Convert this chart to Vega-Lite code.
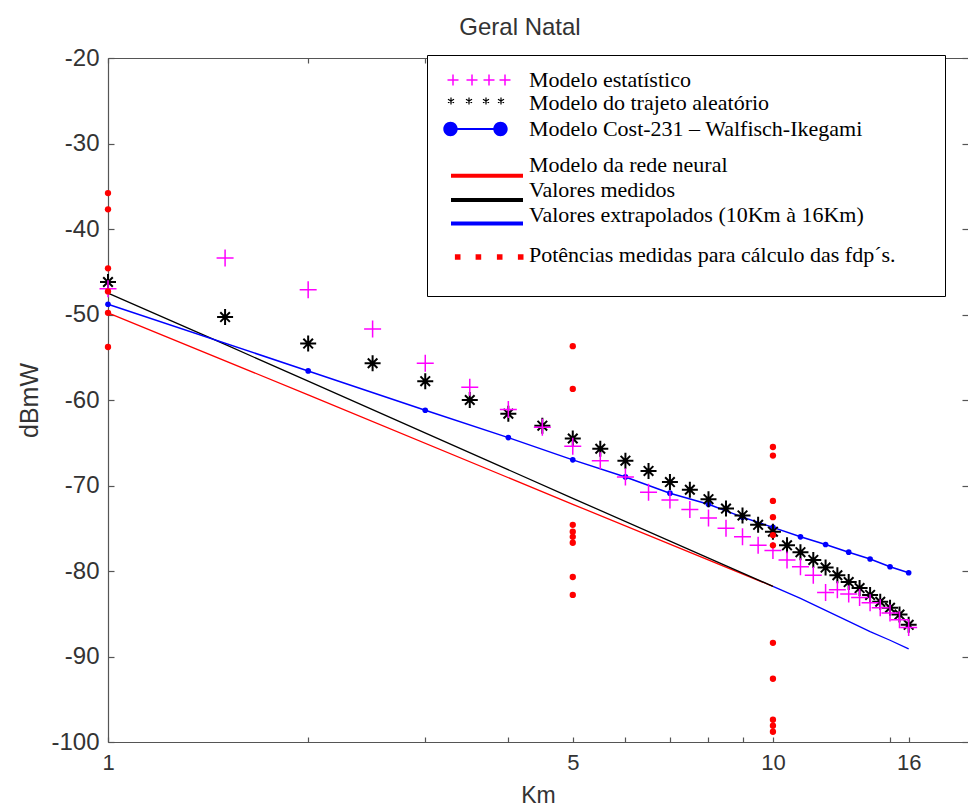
{
  "$schema": "https://vega.github.io/schema/vega-lite/v6.json",
  "width": 860,
  "height": 684,
  "autosize": {"type": "none"},
  "padding": {"left": 108, "top": 58, "right": 0, "bottom": 70},
  "background": "white",
  "title": {"text": "Geral Natal", "font": "Liberation Sans", "fontSize": 24, "fontWeight": "normal", "color": "#333333", "anchor": "middle", "frame": "group", "baseline": "bottom", "offset": 18, "dx": -18, "dy": 36},
  "config": {
    "view": {"stroke": null},
    "axis": {"grid": false, "domainColor": "#555555", "domainWidth": 1.2, "tickColor": "#555555", "tickWidth": 1.2, "labelColor": "#333333", "titleColor": "#333333", "labelFont": "Liberation Sans", "titleFont": "Liberation Sans", "labelFontSize": 22, "titleFontSize": 24, "titleFontWeight": "normal", "labelOverlap": false, "labelFlush": false}
  },
  "data": {"values": [
    {"series": "Modelo da rede neural", "km": 1, "dBmW": -49.8},
    {"series": "Modelo da rede neural", "km": 2, "dBmW": -59.4},
    {"series": "Modelo da rede neural", "km": 5, "dBmW": -72.2},
    {"series": "Modelo da rede neural", "km": 10, "dBmW": -81.8},
    {"series": "Valores medidos", "km": 1, "dBmW": -47.5},
    {"series": "Valores medidos", "km": 1.5, "dBmW": -53.5},
    {"series": "Valores medidos", "km": 2, "dBmW": -57.8},
    {"series": "Valores medidos", "km": 5, "dBmW": -71.5},
    {"series": "Valores medidos", "km": 10, "dBmW": -81.8},
    {"series": "Valores extrapolados (10Km à 16Km)", "km": 10, "dBmW": -81.8},
    {"series": "Valores extrapolados (10Km à 16Km)", "km": 11, "dBmW": -83.2},
    {"series": "Valores extrapolados (10Km à 16Km)", "km": 12, "dBmW": -84.6},
    {"series": "Valores extrapolados (10Km à 16Km)", "km": 13, "dBmW": -85.9},
    {"series": "Valores extrapolados (10Km à 16Km)", "km": 14, "dBmW": -87.1},
    {"series": "Valores extrapolados (10Km à 16Km)", "km": 15, "dBmW": -88.1},
    {"series": "Valores extrapolados (10Km à 16Km)", "km": 16, "dBmW": -89.1},
    {"series": "Modelo Cost-231 – Walfisch-Ikegami", "km": 1, "dBmW": -48.8},
    {"series": "Modelo Cost-231 – Walfisch-Ikegami", "km": 2, "dBmW": -56.6},
    {"series": "Modelo Cost-231 – Walfisch-Ikegami", "km": 3, "dBmW": -61.2},
    {"series": "Modelo Cost-231 – Walfisch-Ikegami", "km": 4, "dBmW": -64.4},
    {"series": "Modelo Cost-231 – Walfisch-Ikegami", "km": 5, "dBmW": -67.0},
    {"series": "Modelo Cost-231 – Walfisch-Ikegami", "km": 6, "dBmW": -69.0},
    {"series": "Modelo Cost-231 – Walfisch-Ikegami", "km": 7, "dBmW": -70.9},
    {"series": "Modelo Cost-231 – Walfisch-Ikegami", "km": 8, "dBmW": -72.2},
    {"series": "Modelo Cost-231 – Walfisch-Ikegami", "km": 9, "dBmW": -73.7},
    {"series": "Modelo Cost-231 – Walfisch-Ikegami", "km": 10, "dBmW": -74.9},
    {"series": "Modelo Cost-231 – Walfisch-Ikegami", "km": 11, "dBmW": -76.0},
    {"series": "Modelo Cost-231 – Walfisch-Ikegami", "km": 12, "dBmW": -76.9},
    {"series": "Modelo Cost-231 – Walfisch-Ikegami", "km": 13, "dBmW": -77.8},
    {"series": "Modelo Cost-231 – Walfisch-Ikegami", "km": 14, "dBmW": -78.6},
    {"series": "Modelo Cost-231 – Walfisch-Ikegami", "km": 15, "dBmW": -79.5},
    {"series": "Modelo Cost-231 – Walfisch-Ikegami", "km": 16, "dBmW": -80.2},
    {"series": "Modelo do trajeto aleatório", "km": 1, "dBmW": -46.2},
    {"series": "Modelo do trajeto aleatório", "km": 1.5, "dBmW": -50.3},
    {"series": "Modelo do trajeto aleatório", "km": 2, "dBmW": -53.4},
    {"series": "Modelo do trajeto aleatório", "km": 2.5, "dBmW": -55.7},
    {"series": "Modelo do trajeto aleatório", "km": 3, "dBmW": -57.8},
    {"series": "Modelo do trajeto aleatório", "km": 3.5, "dBmW": -60.0},
    {"series": "Modelo do trajeto aleatório", "km": 4, "dBmW": -61.6},
    {"series": "Modelo do trajeto aleatório", "km": 4.5, "dBmW": -63.0},
    {"series": "Modelo do trajeto aleatório", "km": 5, "dBmW": -64.5},
    {"series": "Modelo do trajeto aleatório", "km": 5.5, "dBmW": -65.7},
    {"series": "Modelo do trajeto aleatório", "km": 6, "dBmW": -67.1},
    {"series": "Modelo do trajeto aleatório", "km": 6.5, "dBmW": -68.3},
    {"series": "Modelo do trajeto aleatório", "km": 7, "dBmW": -69.6},
    {"series": "Modelo do trajeto aleatório", "km": 7.5, "dBmW": -70.5},
    {"series": "Modelo do trajeto aleatório", "km": 8, "dBmW": -71.6},
    {"series": "Modelo do trajeto aleatório", "km": 8.5, "dBmW": -72.7},
    {"series": "Modelo do trajeto aleatório", "km": 9, "dBmW": -73.5},
    {"series": "Modelo do trajeto aleatório", "km": 9.5, "dBmW": -74.6},
    {"series": "Modelo do trajeto aleatório", "km": 10, "dBmW": -75.4},
    {"series": "Modelo do trajeto aleatório", "km": 10.5, "dBmW": -77.0},
    {"series": "Modelo do trajeto aleatório", "km": 11, "dBmW": -77.8},
    {"series": "Modelo do trajeto aleatório", "km": 11.5, "dBmW": -78.7},
    {"series": "Modelo do trajeto aleatório", "km": 12, "dBmW": -79.6},
    {"series": "Modelo do trajeto aleatório", "km": 12.5, "dBmW": -80.5},
    {"series": "Modelo do trajeto aleatório", "km": 13, "dBmW": -81.3},
    {"series": "Modelo do trajeto aleatório", "km": 13.5, "dBmW": -82.0},
    {"series": "Modelo do trajeto aleatório", "km": 14, "dBmW": -82.8},
    {"series": "Modelo do trajeto aleatório", "km": 14.5, "dBmW": -83.6},
    {"series": "Modelo do trajeto aleatório", "km": 15, "dBmW": -84.3},
    {"series": "Modelo do trajeto aleatório", "km": 15.5, "dBmW": -85.1},
    {"series": "Modelo do trajeto aleatório", "km": 16, "dBmW": -86.3},
    {"series": "Modelo estatístico", "km": 1, "dBmW": -47.0},
    {"series": "Modelo estatístico", "km": 1.5, "dBmW": -43.4},
    {"series": "Modelo estatístico", "km": 2, "dBmW": -47.1},
    {"series": "Modelo estatístico", "km": 2.5, "dBmW": -51.7},
    {"series": "Modelo estatístico", "km": 3, "dBmW": -55.7},
    {"series": "Modelo estatístico", "km": 3.5, "dBmW": -58.5},
    {"series": "Modelo estatístico", "km": 4, "dBmW": -61.1},
    {"series": "Modelo estatístico", "km": 4.5, "dBmW": -63.2},
    {"series": "Modelo estatístico", "km": 5, "dBmW": -65.4},
    {"series": "Modelo estatístico", "km": 5.5, "dBmW": -67.1},
    {"series": "Modelo estatístico", "km": 6, "dBmW": -69.0},
    {"series": "Modelo estatístico", "km": 6.5, "dBmW": -70.8},
    {"series": "Modelo estatístico", "km": 7, "dBmW": -71.7},
    {"series": "Modelo estatístico", "km": 7.5, "dBmW": -72.8},
    {"series": "Modelo estatístico", "km": 8, "dBmW": -73.8},
    {"series": "Modelo estatístico", "km": 8.5, "dBmW": -75.0},
    {"series": "Modelo estatístico", "km": 9, "dBmW": -76.0},
    {"series": "Modelo estatístico", "km": 9.5, "dBmW": -77.0},
    {"series": "Modelo estatístico", "km": 10, "dBmW": -77.6},
    {"series": "Modelo estatístico", "km": 10.5, "dBmW": -78.7},
    {"series": "Modelo estatístico", "km": 11, "dBmW": -79.5},
    {"series": "Modelo estatístico", "km": 11.5, "dBmW": -80.5},
    {"series": "Modelo estatístico", "km": 12, "dBmW": -82.5},
    {"series": "Modelo estatístico", "km": 12.5, "dBmW": -82.2},
    {"series": "Modelo estatístico", "km": 13, "dBmW": -82.7},
    {"series": "Modelo estatístico", "km": 13.5, "dBmW": -83.1},
    {"series": "Modelo estatístico", "km": 14, "dBmW": -83.7},
    {"series": "Modelo estatístico", "km": 14.5, "dBmW": -84.3},
    {"series": "Modelo estatístico", "km": 15, "dBmW": -84.9},
    {"series": "Modelo estatístico", "km": 15.5, "dBmW": -85.7},
    {"series": "Modelo estatístico", "km": 16, "dBmW": -86.6},
    {"series": "Potências medidas para cálculo das fdp´s.", "km": 1, "dBmW": -35.8},
    {"series": "Potências medidas para cálculo das fdp´s.", "km": 1, "dBmW": -37.7},
    {"series": "Potências medidas para cálculo das fdp´s.", "km": 1, "dBmW": -44.6},
    {"series": "Potências medidas para cálculo das fdp´s.", "km": 1, "dBmW": -47.3},
    {"series": "Potências medidas para cálculo das fdp´s.", "km": 1, "dBmW": -49.8},
    {"series": "Potências medidas para cálculo das fdp´s.", "km": 1, "dBmW": -53.8},
    {"series": "Potências medidas para cálculo das fdp´s.", "km": 5, "dBmW": -53.7},
    {"series": "Potências medidas para cálculo das fdp´s.", "km": 5, "dBmW": -58.7},
    {"series": "Potências medidas para cálculo das fdp´s.", "km": 5, "dBmW": -74.6},
    {"series": "Potências medidas para cálculo das fdp´s.", "km": 5, "dBmW": -75.4},
    {"series": "Potências medidas para cálculo das fdp´s.", "km": 5, "dBmW": -76.0},
    {"series": "Potências medidas para cálculo das fdp´s.", "km": 5, "dBmW": -76.7},
    {"series": "Potências medidas para cálculo das fdp´s.", "km": 5, "dBmW": -80.7},
    {"series": "Potências medidas para cálculo das fdp´s.", "km": 5, "dBmW": -82.8},
    {"series": "Potências medidas para cálculo das fdp´s.", "km": 10, "dBmW": -65.5},
    {"series": "Potências medidas para cálculo das fdp´s.", "km": 10, "dBmW": -66.5},
    {"series": "Potências medidas para cálculo das fdp´s.", "km": 10, "dBmW": -71.8},
    {"series": "Potências medidas para cálculo das fdp´s.", "km": 10, "dBmW": -73.7},
    {"series": "Potências medidas para cálculo das fdp´s.", "km": 10, "dBmW": -75.8},
    {"series": "Potências medidas para cálculo das fdp´s.", "km": 10, "dBmW": -77.0},
    {"series": "Potências medidas para cálculo das fdp´s.", "km": 10, "dBmW": -88.4},
    {"series": "Potências medidas para cálculo das fdp´s.", "km": 10, "dBmW": -92.6},
    {"series": "Potências medidas para cálculo das fdp´s.", "km": 10, "dBmW": -97.4},
    {"series": "Potências medidas para cálculo das fdp´s.", "km": 10, "dBmW": -98.1},
    {"series": "Potências medidas para cálculo das fdp´s.", "km": 10, "dBmW": -98.8}
  ]},
  "resolve": {"axis": {"x": "independent", "y": "independent"}},
  "layer": [
    {
      "mark": {"type": "point", "filled": true, "opacity": 0, "size": 1},
      "encoding": {
        "x": {"field": "km", "type": "quantitative", "scale": {"type": "log", "domain": [1, 19.65], "nice": false}, "axis": null},
        "y": {"field": "dBmW", "type": "quantitative", "scale": {"domain": [-100, -20], "nice": false, "zero": false}, "axis": null},
        "color": {
          "field": "series", "type": "nominal",
          "scale": {
            "domain": ["Modelo estatístico", "Modelo do trajeto aleatório", "Modelo Cost-231 – Walfisch-Ikegami", "Modelo da rede neural", "Valores medidos", "Valores extrapolados (10Km à 16Km)", "Potências medidas para cálculo das fdp´s."],
            "range": ["#ff00ff", "#000000", "#0000ff", "#ff0000", "#000000", "#0000ff", "#ff0000"]
          },
          "legend": {
            "orient": "none", "legendX": 319, "legendY": -3, "title": null,
            "padding": 14, "fillColor": "white", "strokeColor": "#000000",
            "rowPadding": 0, "symbolSize": 400, "symbolStrokeWidth": 0, "symbolOpacity": 1, "symbolOffset": 28, "labelOffset": 38,
            "labelFont": "Liberation Serif", "labelFontSize": 22, "labelColor": "#000000", "labelLimit": 600
          }
        },
        "shape": {
          "field": "series", "type": "nominal",
          "scale": {
            "domain": ["Modelo estatístico", "Modelo do trajeto aleatório", "Modelo Cost-231 – Walfisch-Ikegami", "Modelo da rede neural", "Valores medidos", "Valores extrapolados (10Km à 16Km)", "Potências medidas para cálculo das fdp´s."],
            "range": [
              "M-4.2,-1.2M-4.2,1.0M45.1,0M-3.25,-0.075L-2.15,-0.075L-2.15,0.075L-3.25,0.075ZM-2.775,-0.55L-2.625,-0.55L-2.625,0.55L-2.775,0.55ZM-1.35,-0.075L-0.25,-0.075L-0.25,0.075L-1.35,0.075ZM-0.875,-0.55L-0.725,-0.55L-0.725,0.55L-0.875,0.55ZM0.35,-0.075L1.45,-0.075L1.45,0.075L0.35,0.075ZM0.825,-0.55L0.975,-0.55L0.975,0.55L0.825,0.55ZM1.95,-0.075L3.05,-0.075L3.05,0.075L1.95,0.075ZM2.425,-0.55L2.575,-0.55L2.575,0.55L2.425,0.55Z",
              "M-4.2,-1.2M-4.2,1.35M-2.96,-0.55L-2.84,-0.55L-2.84,0.15L-2.96,0.15ZM-2.627,0.027L-3.233,-0.323L-3.173,-0.427L-2.567,-0.077ZM-2.627,-0.427L-2.567,-0.323L-3.173,0.027L-3.233,-0.077ZM-1.16,-0.55L-1.04,-0.55L-1.04,0.15L-1.16,0.15ZM-0.827,0.027L-1.433,-0.323L-1.373,-0.427L-0.767,-0.077ZM-0.827,-0.427L-0.767,-0.323L-1.373,0.027L-1.433,-0.077ZM0.54,-0.55L0.66,-0.55L0.66,0.15L0.54,0.15ZM0.873,0.027L0.267,-0.323L0.327,-0.427L0.933,-0.077ZM0.873,-0.427L0.933,-0.323L0.327,0.027L0.267,-0.077ZM2.04,-0.55L2.16,-0.55L2.16,0.15L2.04,0.15ZM2.373,0.027L1.767,-0.323L1.827,-0.427L2.433,-0.077ZM2.373,-0.427L2.433,-0.323L1.827,0.027L1.767,-0.077Z",
              "M-4.2,-1.2M-4.2,2.35M-3.67,0A0.72,0.72 0 1 1 -2.23,0A0.72,0.72 0 1 1 -3.67,0ZM1.33,0A0.72,0.72 0 1 1 2.77,0A0.72,0.72 0 1 1 1.33,0ZM-2.95,-0.1L2.05,-0.1L2.05,0.1L-2.95,0.1Z",
              "M-4.2,-1.2M-4.2,1.3M-2.9,0.88L4.3,0.88L4.3,1.28L-2.9,1.28Z",
              "M-4.2,-1.2M-4.2,1.3M-2.9,0.8L4.3,0.8L4.3,1.2L-2.9,1.2Z",
              "M-4.2,-1.2M-4.2,2.75M-2.9,0.65L4.3,0.65L4.3,1.05L-2.9,1.05Z",
              "M-4.2,-1.2M-4.2,2.65M-2.51,-0.08L-1.95,-0.08L-1.95,0.48L-2.51,0.48ZM-0.44,-0.08L0.12,-0.08L0.12,0.48L-0.44,0.48ZM1.69,-0.08L2.25,-0.08L2.25,0.48L1.69,0.48ZM3.79,-0.08L4.35,-0.08L4.35,0.48L3.79,0.48Z"
            ]
          }
        }
      }
    },
    {
      "transform": [{"filter": {"field": "series", "equal": "Modelo da rede neural"}}],
      "mark": {"type": "line", "strokeWidth": 1.3},
      "encoding": {
        "x": {"field": "km", "type": "quantitative", "scale": {"type": "log", "domain": [1, 19.65], "nice": false}, "axis": {"orient": "top", "values": [1, 2, 3, 4, 5, 6, 7, 8, 9, 10, 15, 16], "labels": false, "title": null, "tickSize": -5}},
        "y": {"field": "dBmW", "type": "quantitative", "scale": {"domain": [-100, -20], "nice": false, "zero": false}, "axis": {"orient": "right", "values": [-100, -90, -80, -70, -60, -50, -40, -30, -20], "labels": false, "domain": false, "title": null, "tickSize": -6}},
        "color": {"field": "series", "type": "nominal"}
      }
    },
    {
      "transform": [{"filter": {"field": "series", "equal": "Valores medidos"}}],
      "mark": {"type": "line", "strokeWidth": 1.3},
      "encoding": {
        "x": {"field": "km", "type": "quantitative", "scale": {"type": "log", "domain": [1, 19.65], "nice": false}, "axis": {"orient": "bottom", "values": [1, 2, 3, 4, 5, 6, 7, 8, 9, 10, 15, 16], "labelExpr": "indexof([1, 5, 10, 16], datum.value) >= 0 ? '' + datum.value : ''", "title": "Km", "titleFontSize": 23, "tickSize": -5, "labelPadding": 15, "titlePadding": 11}},
        "y": {"field": "dBmW", "type": "quantitative", "scale": {"domain": [-100, -20], "nice": false, "zero": false}, "axis": {"orient": "left", "values": [-100, -90, -80, -70, -60, -50, -40, -30, -20], "labelExpr": "'' + datum.value", "labelFontSize": 24, "title": "dBmW", "titleFontSize": 25, "tickSize": -6, "labelPadding": 15, "titlePadding": 8}},
        "color": {"field": "series", "type": "nominal"}
      }
    },
    {
      "transform": [{"filter": {"field": "series", "equal": "Valores extrapolados (10Km à 16Km)"}}],
      "mark": {"type": "line", "strokeWidth": 1.3},
      "encoding": {
        "x": {"field": "km", "type": "quantitative", "scale": {"type": "log", "domain": [1, 19.65], "nice": false}, "axis": null},
        "y": {"field": "dBmW", "type": "quantitative", "scale": {"domain": [-100, -20], "nice": false, "zero": false}, "axis": null},
        "color": {"field": "series", "type": "nominal"}
      }
    },
    {
      "transform": [{"filter": {"field": "series", "equal": "Modelo Cost-231 – Walfisch-Ikegami"}}],
      "mark": {"type": "line", "strokeWidth": 1.5},
      "encoding": {
        "x": {"field": "km", "type": "quantitative", "scale": {"type": "log", "domain": [1, 19.65], "nice": false}, "axis": null},
        "y": {"field": "dBmW", "type": "quantitative", "scale": {"domain": [-100, -20], "nice": false, "zero": false}, "axis": null},
        "color": {"field": "series", "type": "nominal"}
      }
    },
    {
      "transform": [{"filter": {"field": "series", "equal": "Modelo Cost-231 – Walfisch-Ikegami"}}],
      "mark": {"type": "circle", "size": 32, "opacity": 1},
      "encoding": {
        "x": {"field": "km", "type": "quantitative", "scale": {"type": "log", "domain": [1, 19.65], "nice": false}, "axis": null},
        "y": {"field": "dBmW", "type": "quantitative", "scale": {"domain": [-100, -20], "nice": false, "zero": false}, "axis": null},
        "color": {"field": "series", "type": "nominal"}
      }
    },
    {
      "transform": [{"filter": {"field": "series", "equal": "Modelo do trajeto aleatório"}}],
      "mark": {"type": "point", "shape": "M-1,0L1,0M0,-1L0,1M-0.6,-0.6L0.6,0.6M-0.6,0.6L0.6,-0.6", "filled": false, "size": 256, "strokeWidth": 2, "opacity": 1},
      "encoding": {
        "x": {"field": "km", "type": "quantitative", "scale": {"type": "log", "domain": [1, 19.65], "nice": false}, "axis": null},
        "y": {"field": "dBmW", "type": "quantitative", "scale": {"domain": [-100, -20], "nice": false, "zero": false}, "axis": null},
        "color": {"field": "series", "type": "nominal"}
      }
    },
    {
      "transform": [{"filter": {"field": "series", "equal": "Modelo estatístico"}}],
      "mark": {"type": "point", "shape": "M-1,0L1,0M0,-1L0,1", "filled": false, "size": 289, "strokeWidth": 1.5, "opacity": 1},
      "encoding": {
        "x": {"field": "km", "type": "quantitative", "scale": {"type": "log", "domain": [1, 19.65], "nice": false}, "axis": null},
        "y": {"field": "dBmW", "type": "quantitative", "scale": {"domain": [-100, -20], "nice": false, "zero": false}, "axis": null},
        "color": {"field": "series", "type": "nominal"}
      }
    },
    {
      "transform": [{"filter": {"field": "series", "equal": "Potências medidas para cálculo das fdp´s."}}],
      "mark": {"type": "circle", "size": 40, "opacity": 1},
      "encoding": {
        "x": {"field": "km", "type": "quantitative", "scale": {"type": "log", "domain": [1, 19.65], "nice": false}, "axis": null},
        "y": {"field": "dBmW", "type": "quantitative", "scale": {"domain": [-100, -20], "nice": false, "zero": false}, "axis": null},
        "color": {"field": "series", "type": "nominal"}
      }
    }
  ]
}
